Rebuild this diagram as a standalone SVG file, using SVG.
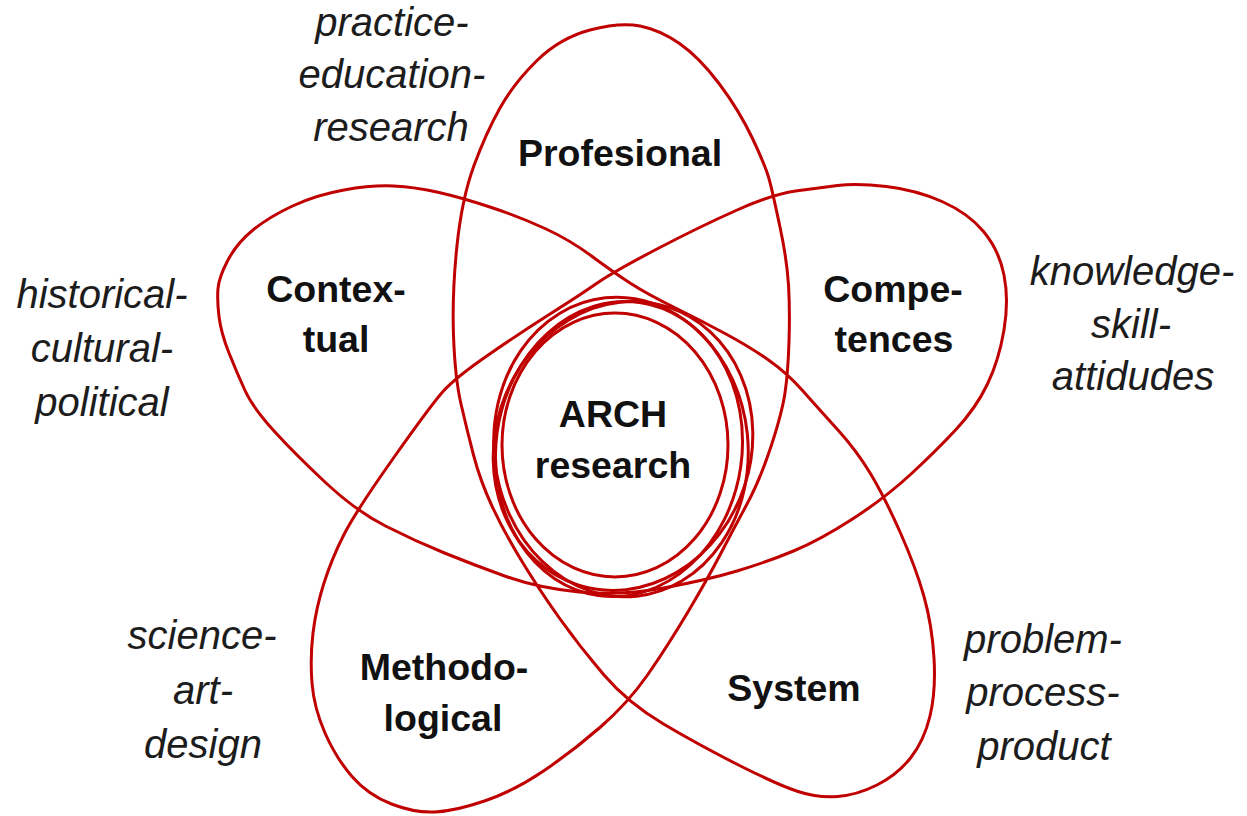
<svg xmlns="http://www.w3.org/2000/svg" width="1247" height="816" viewBox="0 0 1247 816">
<style>
.ln{fill:none;stroke:#C00000;stroke-width:3;stroke-linejoin:round}
.b{font-family:"Liberation Sans",Arial,sans-serif;font-weight:bold;font-size:37.5px;fill:#111;text-anchor:middle}
.i{font-family:"Liberation Sans",Arial,sans-serif;font-style:italic;font-size:40px;fill:#1c1c1c;text-anchor:middle}
</style>
<rect width="1247" height="816" fill="#fff"/>
<g id="star">
<path class="ln" d="M640,26 Q620,22 590,30 Q560,38 537,60.5 Q514,83 500,108 Q486,133 474,165.5 Q462,198 457,245.5 Q452,293 453.5,335.5 Q455,378 461,404 Q467,430 473.5,455 Q480,480 491.5,505 Q503,530 520.5,559 Q538,588 559,617.5 Q580,647 604,675 Q628,703 663.5,724 Q699,745 738.5,765 Q778,785 798,791.5 Q818,798 837.5,796.5 Q857,795 877,785 Q897,775 910.5,758 Q924,741 930,716 Q936,691 934,658 Q932,625 924,596.5 Q916,568 900.5,533 Q885,498 871,474.5 Q857,451 837.5,429.5 Q818,408 802.5,390.5 Q787,373 768.5,360 Q750,347 725,333.5 Q700,320 673.5,307 Q647,294 630,283 Q613,272 591.5,256 Q570,240 545,228.5 Q520,217 491.5,207.5 Q463,198 439,192.5 Q415,187 393.5,186 Q372,185 344,190 Q316,195 292.5,206 Q269,217 253,230 Q237,243 228,260 Q219,277 218,288.5 Q217,300 219,316.5 Q221,333 229,353 Q237,373 245,390.5 Q253,408 274.5,431.5 Q296,455 326,483 Q356,511 385.5,526 Q415,541 444.5,553 Q474,565 506,576.5 Q538,588 579,592 Q620,596 663.5,588 Q707,580 737,571 Q767,562 793.5,551 Q820,540 852.5,519 Q885,498 910.5,474.5 Q936,451 956,429.5 Q976,408 987.5,384 Q999,360 1004,330 Q1009,300 1004,275 Q999,250 983.5,231.5 Q968,213 942,201.5 Q916,190 886.5,186.5 Q857,183 837.5,185.5 Q818,188 795.5,191 Q773,194 736,210.5 Q699,227 656,249.5 Q613,272 596.5,283.5 Q580,295 550,314 Q520,333 487.5,355.5 Q455,378 443,391.5 Q431,405 393.5,458 Q356,511 344,534.5 Q332,558 324,583 Q316,608 313,633 Q310,658 312,683 Q314,708 325,733 Q336,758 352,776.5 Q368,795 391.5,804 Q415,813 435,812 Q455,811 484.5,801 Q514,791 543.5,771 Q573,751 600.5,727 Q628,703 647.5,675 Q667,647 687,613.5 Q707,580 720,555 Q733,530 746.5,505 Q760,480 771,446.5 Q782,413 785,393 Q788,373 789,341.5 Q790,310 788.5,285 Q787,260 780,227 Q773,194 769.5,180.5 Q766,167 752.5,138.5 Q739,110 719,83.5 Q699,57 679.5,43.5 Q660,30 640,26 Z"/>
</g>
<g id="center-rings">
<ellipse class="ln" cx="615" cy="445" rx="113" ry="132"/>
<ellipse class="ln" cx="621" cy="447" rx="127" ry="150" transform="rotate(-6 621 447)"/>
<ellipse class="ln" cx="619" cy="449" rx="123" ry="148" transform="rotate(8 619 449)"/>
<ellipse class="ln" cx="623" cy="446" rx="128" ry="146" transform="rotate(18 623 446)"/>
</g>
<g id="node-arch"><text class="b" x="613" y="427">ARCH</text><text class="b" x="613" y="478">research</text></g>
<g id="node-profesional"><text class="b" x="620" y="166">Profesional</text></g>
<g id="node-contextual"><text class="b" x="336" y="302">Contex-</text><text class="b" x="336" y="352">tual</text></g>
<g id="node-competences"><text class="b" x="893" y="302">Compe-</text><text class="b" x="894" y="352">tences</text></g>
<g id="node-methodological"><text class="b" x="444" y="680">Methodo-</text><text class="b" x="443" y="731">logical</text></g>
<g id="node-system"><text class="b" x="794" y="701">System</text></g>
<g id="note-profesional"><text class="i" x="392" y="36">practice-</text><text class="i" x="392" y="88">education-</text><text class="i" x="391" y="141">research</text></g>
<g id="note-contextual"><text class="i" x="102" y="308">historical-</text><text class="i" x="102" y="362">cultural-</text><text class="i" x="102" y="416">political</text></g>
<g id="note-competences"><text class="i" x="1132" y="285">knowledge-</text><text class="i" x="1131" y="338">skill-</text><text class="i" x="1133" y="390">attidudes</text></g>
<g id="note-methodological"><text class="i" x="202" y="649">science-</text><text class="i" x="203" y="704">art-</text><text class="i" x="203" y="758">design</text></g>
<g id="note-system"><text class="i" x="1043" y="653">problem-</text><text class="i" x="1043" y="706">process-</text><text class="i" x="1044" y="760">product</text></g>
</svg>
